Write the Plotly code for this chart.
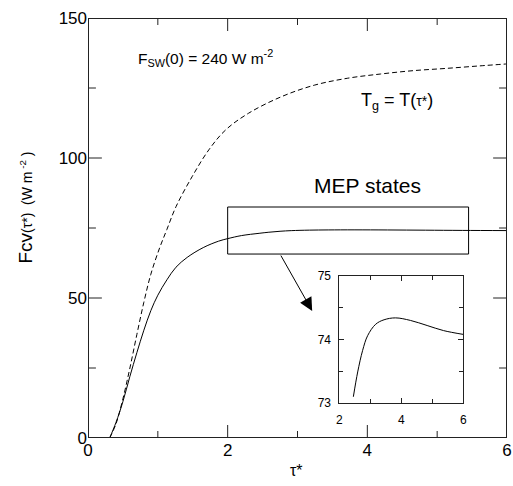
import plotly.graph_objects as go

# Solid curve: MEP states, Fcv(tau*)
tau_mep = [0.31, 0.40, 0.50, 0.60, 0.70, 0.80, 0.90, 1.00, 1.13, 1.26, 1.42, 1.65, 1.87,
           2.0, 2.2, 2.45, 2.59, 2.75, 2.91, 3.17, 3.44, 3.81, 4.29, 4.83, 5.36, 6.0]
fcv_mep = [0.0, 5.5, 13.0, 22.0, 30.5, 38.5, 45.5, 51.0, 56.5, 61.0, 64.5, 68.0, 70.3,
           71.2, 72.3, 73.10, 73.49, 73.83, 74.06, 74.24, 74.31, 74.34, 74.30, 74.22, 74.14, 74.08]

# Dashed curve: Tg = T(tau*)
tau_tg = [0.31, 0.40, 0.50, 0.60, 0.70, 0.80, 0.90, 1.02, 1.13, 1.26, 1.49, 1.73, 1.97,
          2.30, 2.77, 3.24, 3.72, 4.19, 4.66, 5.13, 5.61, 6.0]
fcv_tg = [0.0, 5.0, 14.0, 25.0, 37.0, 48.5, 58.5, 67.5, 74.5, 82.6, 93.3, 102.9, 110.0,
          116.0, 121.9, 126.0, 128.5, 130.0, 131.2, 132.0, 132.9, 133.6]

# Axis ranges and tick values of the main panel
x_range = [0, 6]
y_range = [0, 150]
x_major = [0, 2, 4, 6]
x_minor = [1, 3, 5]
y_major = [0, 50, 100, 150]
y_minor = [25, 75, 125]

# Inset uses the part of the MEP curve beyond tau* = 2.4
tau_in = [t for t in tau_mep if t >= 2.4]
fcv_in = [f for t, f in zip(tau_mep, fcv_mep) if t >= 2.4]

FONT = "Liberation Sans"
AX = "#222222"
W, H = 513, 486
ML, MR, MT, MB = 88, 2, 18, 48
PW, PH = W - ML - MR, H - MT - MB
XU = (x_range[1] - x_range[0]) / PW   # x data units per pixel
YU = (y_range[1] - y_range[0]) / PH   # y data units per pixel

fig = go.Figure()
fig.add_trace(go.Scatter(x=tau_tg, y=fcv_tg, mode="lines", line=dict(color="black", width=1, dash="5px,3px", shape="spline"), showlegend=False, hoverinfo="skip"))
fig.add_trace(go.Scatter(x=tau_mep, y=fcv_mep, mode="lines", line=dict(color="black", width=1, shape="spline"), showlegend=False, hoverinfo="skip"))
fig.add_trace(go.Scatter(x=tau_in, y=fcv_in, mode="lines", line=dict(color="black", width=1, shape="spline"), xaxis="x2", yaxis="y2", showlegend=False, hoverinfo="skip"))

inset_common = dict(showline=True, linecolor=AX, linewidth=1, mirror="ticks", ticks="inside",
                    tickcolor=AX, tickwidth=1, showgrid=False, zeroline=False)

fig.update_layout(
    width=W, height=H,
    margin=dict(l=ML, r=MR, t=MT, b=MB),
    paper_bgcolor="white", plot_bgcolor="white",
    font=dict(family=FONT, color="black"),
    xaxis=dict(range=x_range, tickvals=x_major, ticks="", showline=False, showgrid=False,
               zeroline=False, tickfont=dict(size=17)),
    yaxis=dict(range=y_range, tickvals=y_major, ticks="", showline=False, showgrid=False,
               zeroline=False, tickfont=dict(size=17)),
    xaxis2=dict(domain=[0.600, 0.896], anchor="y2", range=[2, 6], tick0=2, dtick=2, ticklen=5,
                tickfont=dict(size=12), ticklabelstandoff=5,
                minor=dict(dtick=1, ticklen=4, ticks="inside", tickcolor=AX), **inset_common),
    yaxis2=dict(domain=[0.083, 0.386], anchor="x2", range=[73, 75], tick0=73, dtick=1, ticklen=5,
                tickfont=dict(size=12), ticklabelstandoff=5,
                minor=dict(dtick=0.5, ticklen=4, ticks="inside", tickcolor=AX), **inset_common),
)

# frame of the main panel (on the axis range; half of the 2px stroke is clipped away)
fig.add_shape(type="rect", xref="x", yref="y", x0=x_range[0], x1=x_range[1],
              y0=y_range[0], y1=y_range[1], line=dict(color=AX, width=2))

# inward ticks on all four sides of the main panel
tick_line = dict(color=AX, width=1)
for vals, px in ((x_major, 13), (x_minor, 7)):
    d = px * YU
    for v in vals:
        fig.add_shape(type="line", xref="x", yref="y", x0=v, x1=v, y0=y_range[0], y1=y_range[0] + d, line=tick_line)
        fig.add_shape(type="line", xref="x", yref="y", x0=v, x1=v, y0=y_range[1] - d, y1=y_range[1], line=tick_line)
for vals, px in ((y_major, 14), (y_minor, 8)):
    d = px * XU
    for v in vals:
        fig.add_shape(type="line", xref="x", yref="y", x0=x_range[0], x1=x_range[0] + d, y0=v, y1=v, line=tick_line)
        fig.add_shape(type="line", xref="x", yref="y", x0=x_range[1] - d, x1=x_range[1], y0=v, y1=v, line=tick_line)

# MEP states box
fig.add_shape(type="rect", xref="x", yref="y", x0=2, x1=5.45, y0=65.7, y1=82.5,
              line=dict(color="black", width=1))

fig.add_annotation(x=3.21, y=45.4, ax=2.75, ay=65.7, axref="x", ayref="y", xref="x", yref="y",
                   text="", showarrow=True, arrowhead=2, arrowsize=2.6, arrowwidth=1, arrowcolor="black")

fig.add_annotation(x=(136 - ML) / PW, y=(438 - 58) / PH, xref="paper", yref="paper",
                   xanchor="left", yanchor="middle", showarrow=False,
                   text="F<sub>SW</sub>(0) = 240 W m<sup>-2</sup>", font=dict(size=15.5))
fig.add_annotation(x=(362 - ML) / PW, y=(438 - 102) / PH, xref="paper", yref="paper",
                   xanchor="left", yanchor="middle", showarrow=False,
                   text="T<sub>g</sub> = T(<span style='font-size:14px'>τ*</span>)", font=dict(size=18))
fig.add_annotation(x=(370 - ML) / PW, y=(438 - 185) / PH, xref="paper", yref="paper",
                   xanchor="center", yanchor="middle", showarrow=False,
                   text="MEP states", font=dict(size=21))
fig.add_annotation(x=(25 - ML) / PW, y=(438 - 208) / PH, xref="paper", yref="paper",
                   xanchor="center", yanchor="middle", showarrow=False, textangle=-90,
                   text="<span style='font-size:19px'>Fcv</span>(τ*)  (W m<sup> -2</sup> )",
                   font=dict(size=14))
fig.add_annotation(x=(298 - ML) / PW, y=(438 - 470) / PH, xref="paper", yref="paper",
                   xanchor="center", yanchor="middle", showarrow=False,
                   text="τ*", font=dict(size=16))

fig.write_html("out.html", post_script="document.body.style.margin='0px';",
               config={"displayModeBar": False})
